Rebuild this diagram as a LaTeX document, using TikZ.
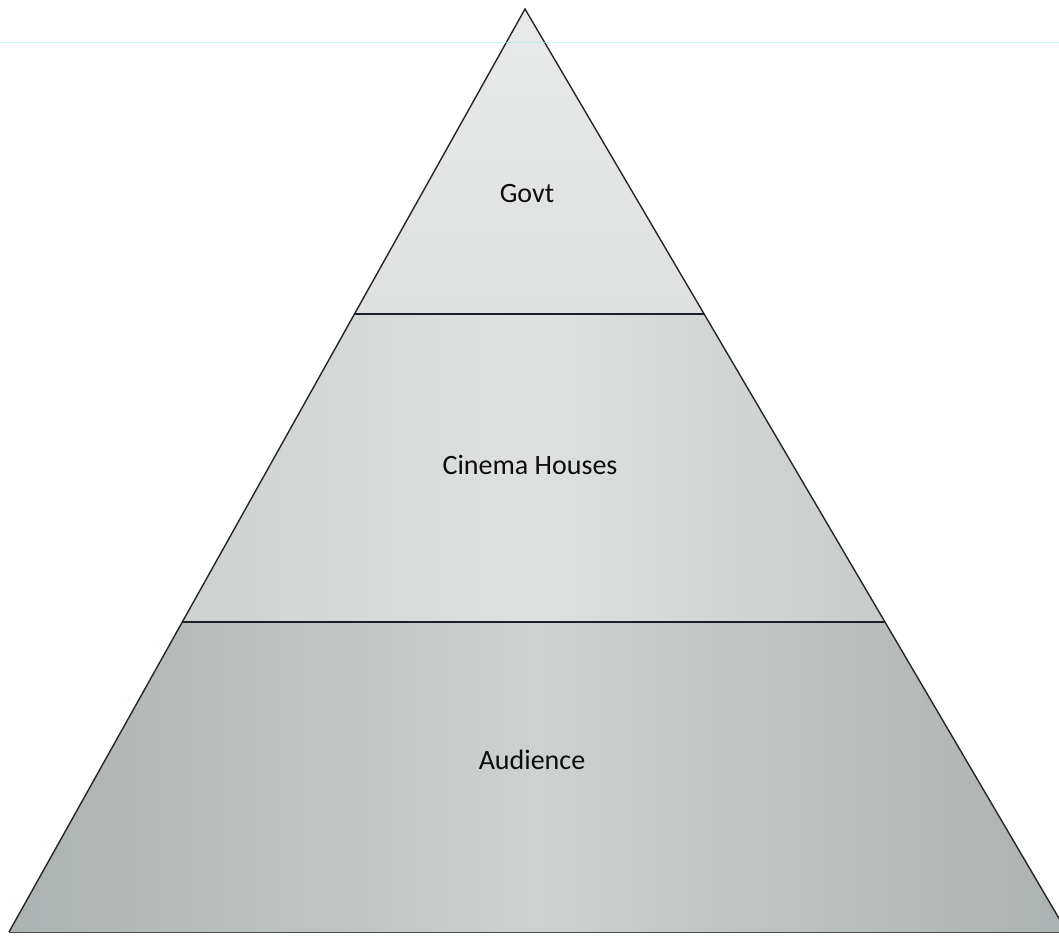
\documentclass[tikz,border=0pt]{standalone}
\usepackage{fontspec}
\setmainfont{Carlito}
\usetikzlibrary{calc}
\definecolor{scanlight}{RGB}{222,225,224}
\definecolor{scanmid}{RGB}{205,209,208}
\definecolor{scandark}{RGB}{172,178,177}
\definecolor{inkline}{RGB}{25,32,40}
\definecolor{scancyan}{RGB}{170,235,240}
\begin{document}
\begin{tikzpicture}[x=1pt,y=1pt,
  edge/.style={line width=1.4pt, draw=black!85, line join=miter},
  divider/.style={line width=2.2pt, draw=inkline},
  label/.style={font=\fontsize{28}{32}\selectfont, text=black!95, inner sep=0pt}]
\useasboundingbox (0,0) rectangle (1059,935);
\clip (0,0) rectangle (1059,935);
\fill[white] (0,0) rectangle (1059,935);
% vertices
\coordinate (A) at (525,926);
\coordinate (L) at (9,3);
\coordinate (R) at (1067,3);
\coordinate (L1) at ($(A)!0.3304!(L)$);
\coordinate (R1) at ($(A)!0.3304!(R)$);
\coordinate (L2) at ($(A)!0.6641!(L)$);
\coordinate (R2) at ($(A)!0.6641!(R)$);
% fills
\shade[top color=scanlight!70!white, bottom color=scanlight] (A) -- (L1) -- (R1) -- cycle;
\shade[left color=scanmid, right color=scanmid!80!scandark, middle color=scanlight] (L1) -- (R1) -- (R2) -- (L2) -- cycle;
\shade[left color=scandark, right color=scandark, middle color=scanmid] (L2) -- (R2) -- (R) -- (L) -- cycle;
% outline and dividers
\draw[edge] (L) -- (A) -- (R);
\draw[edge, line width=1pt, draw=black!70] (L) -- (R);
\draw[divider] (L1) -- (R1);
\draw[divider] (L2) -- (R2);
% labels
\node[label] (govt) at (527,741) {Govt};
\node[label] (cinema) at (530,470) {Cinema Houses};
\node[label] (audience) at (532,175) {Audience};
% faint scan line
\draw[scancyan, line width=1pt, opacity=0.6] (0,892) -- (1059,892);
\end{tikzpicture}
\end{document}
